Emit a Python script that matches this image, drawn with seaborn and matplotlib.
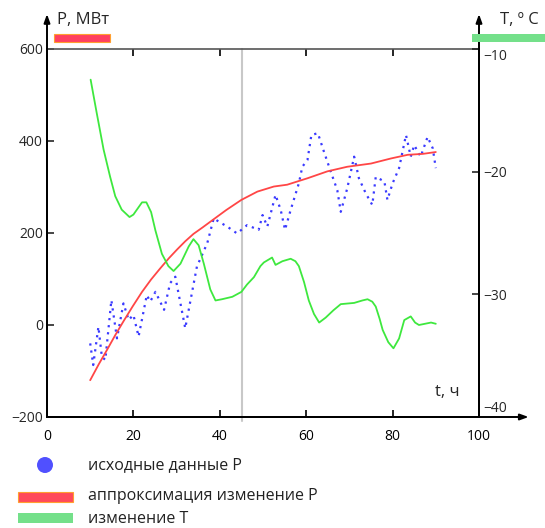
import matplotlib
matplotlib.use("Agg")
import matplotlib.pyplot as plt
import matplotlib.transforms as mtransforms
import seaborn as sns
import pandas as pd
from matplotlib.patches import Rectangle, Ellipse

# --- data ---
p_raw_t = [10.0, 10.7, 11.9, 12.7, 13.5, 14.9, 16.2, 17.7, 18.9, 20.0, 21.2, 23.1, 23.9, 25.1,
           27.1, 28.5, 29.7, 32.0, 34.7, 37.1, 38.6, 39.7, 41.7, 44.0, 46.3, 49.0, 49.9, 51.0,
           52.9, 54.1, 55.1, 56.4, 58.3, 59.1, 60.3, 61.2, 62.7, 64.1, 65.7, 67.2, 68.0, 69.5,
           71.1, 72.2, 73.8, 75.3, 76.1, 78.1, 78.8, 80.0, 81.5, 83.1, 84.2, 85.0, 86.5, 88.1,
           89.3, 90.0]
p_raw = [-40, -87, -4, -69, -76, 54, -29, 47, 11, 22, -25, 65, 51, 72,
         33, 91, 105, -7, 127, 178, 232, 225, 214, 199, 217, 207, 239, 214,
         283, 250, 207, 250, 308, 344, 359, 413, 417, 377, 333, 293, 246, 297,
         366, 319, 286, 261, 322, 312, 272, 308, 341, 413, 366, 391, 366, 409,
         384, 341]

p_fit_t = [10.0, 12.0, 13.9, 15.8, 17.7, 19.8, 22.0, 24.1, 26.2, 28.2, 30.1, 32.0, 33.9,
           36.0, 38.6, 41.5, 45.0, 48.7, 52.5, 55.6, 60.3, 64.9, 69.5, 75.0, 79.6, 83.5,
           87.0, 90.0]
p_fit = [-120, -85, -54, -22, 8, 40, 72, 99, 123, 145, 164, 182, 198,
         212, 230, 250, 272, 290, 301, 305, 319, 334, 344, 351, 362, 370,
         372, 376]

temp_t = [10.1, 11.5, 13.1, 14.6, 15.8, 17.3, 19.1, 20.0, 21.0, 22.0, 23.0, 24.1, 25.1,
          26.6, 28.1, 29.3, 30.9, 32.8, 33.9, 35.1, 36.3, 37.8, 39.0, 40.5, 42.9, 45.0,
          46.3, 47.9, 49.4, 50.2, 52.1, 52.9, 54.5, 56.4, 57.5, 58.3, 59.5, 60.6, 61.8,
          63.0, 64.5, 66.3, 68.0, 71.1, 73.0, 74.2, 75.3, 76.1, 77.0, 77.7, 79.0, 80.2,
          81.5, 82.7, 84.2, 85.2, 86.1, 88.9, 90.0]
temp = [-12.5, -15.2, -18.2, -20.4, -22.0, -23.1, -23.7, -23.5, -23.0, -22.5, -22.5, -23.3,
        -24.8, -26.7, -27.7, -28.1, -27.5, -26.1, -25.5, -26.0, -27.5, -29.6, -30.5, -30.4,
        -30.2, -29.8, -29.2, -28.6, -27.7, -27.4, -27.0, -27.6, -27.3, -27.1, -27.3, -27.7,
        -29.0, -30.5, -31.6, -32.3, -31.9, -31.3, -30.8, -30.7, -30.5, -30.4, -30.6, -31.0,
        -32.0, -32.9, -33.9, -34.4, -33.6, -32.1, -31.8, -32.3, -32.5, -32.3, -32.4]

x_ticks = [0, 20, 40, 60, 80, 100]
p_ticks = [-200, 0, 200, 400, 600]
t_ticks = [-40, -30, -20, -10]
marker_t = 45.2

legend_labels = ["исходные данные P", "аппроксимация изменение P", "изменение T"]

df_raw = pd.DataFrame({"t": p_raw_t, "P": p_raw})
df_fit = pd.DataFrame({"t": p_fit_t, "P": p_fit})
df_temp = pd.DataFrame({"t": temp_t, "T": temp})

sns.set_style("white")
plt.rcParams['font.family'] = ['Open Sans', 'DejaVu Sans']

fig = plt.figure(figsize=(5.45, 5.28), dpi=100)
ax = fig.add_axes([47/545, 1-417/528, 432/545, 368/528])
ax2 = ax.twinx()

blue = "#3a3aff"
red = "#ff4646"
green = "#3ee83e"

ax.plot([marker_t, marker_t], [-208, 600], color="#c8c8c8", lw=1.5, zorder=1, clip_on=False)
sns.lineplot(data=df_raw, x="t", y="P", ax=ax, color=blue, lw=1.6, linestyle=(0, (1, 2.2)),
             sort=False, estimator=None, zorder=3)
sns.lineplot(data=df_fit, x="t", y="P", ax=ax, color=red, lw=1.3, sort=False,
             estimator=None, zorder=4)
sns.lineplot(data=df_temp, x="t", y="T", ax=ax2, color=green, lw=1.3, sort=False,
             estimator=None, zorder=2)

ax.set_xlim(0, 100)
ax.set_ylim(-200, 600)
ax2.set_ylim(-40, -10)
ax.set_xticks(x_ticks)
ax.set_yticks(p_ticks)
ax2.set_yticks(t_ticks)
ax.set_xlabel("")
ax.set_ylabel("")
ax2.set_ylabel("")

for a in (ax, ax2):
    for s in a.spines.values():
        s.set_color("black")
        s.set_linewidth(1.4)
ax.spines["top"].set_color("#555555")
ax.spines["top"].set_linewidth(1.2)
ax2.spines["top"].set_visible(False)

ax.tick_params(axis="x", direction="in", length=5, width=1.2, labelsize=10, pad=9,
               top=True, bottom=True, colors="black")
ax.tick_params(axis="y", direction="in", length=5, width=1.2, labelsize=10, pad=3,
               left=True, right=False)
ax2.tick_params(axis="y", direction="in", length=5, width=1.2, labelsize=10, pad=3,
                right=True)

fig.canvas.draw()
for lbl, val in zip(ax2.get_yticklabels(), t_ticks):
    if val == -10:
        lbl.set_transform(lbl.get_transform() + mtransforms.ScaledTranslation(0, -6/100, fig.dpi_scale_trans))
    elif val == -40:
        lbl.set_transform(lbl.get_transform() + mtransforms.ScaledTranslation(0, 11/100, fig.dpi_scale_trans))

# arrows on axes
arrow_kw = dict(arrowstyle="-|>,head_length=0.5,head_width=0.18", color="black", lw=1.4,
                shrinkA=0, shrinkB=0)
ax.annotate("", xy=(0, 1.095), xytext=(0, 1.0), xycoords="axes fraction",
            textcoords="axes fraction", arrowprops=arrow_kw)
ax.annotate("", xy=(1, 1.095), xytext=(1, 1.0), xycoords="axes fraction",
            textcoords="axes fraction", arrowprops=arrow_kw)
ax.annotate("", xy=(1.115, 0), xytext=(1.0, 0), xycoords="axes fraction",
            textcoords="axes fraction", arrowprops=arrow_kw)

# axis titles
fig.text(57/545, 1-20/528, "P, МВт", fontsize=12, va="center", ha="left")
fig.text(500/545, 1-20/528, "T, º C", fontsize=12, va="center", ha="left")
ax.text(0.955, 0.045, "t, ч", transform=ax.transAxes, fontsize=12, ha="right", va="bottom")

# colour bars beside titles
fig.patches.append(Rectangle((54/545, 1-42/528), 56/545, 8/528, transform=fig.transFigure,
                             facecolor="#ff4060", edgecolor="#ffa030", lw=0.8))
fig.patches.append(Rectangle((472/545, 1-42/528), 80/545, 8/528, transform=fig.transFigure,
                             facecolor="#74e08a", edgecolor="none"))

# legend below
fig.patches.append(Ellipse((45/545, 1-465/528), 16/545, 16/528, transform=fig.transFigure,
                           facecolor="#5050ff", edgecolor="none"))
fig.patches.append(Rectangle((18/545, 1-502/528), 55/545, 10/528, transform=fig.transFigure,
                             facecolor="#ff4a5a", edgecolor="#ffa030", lw=0.8))
fig.patches.append(Rectangle((18/545, 1-523/528), 55/545, 10/528, transform=fig.transFigure,
                             facecolor="#74e08a", edgecolor="none"))
for yy, lab in zip([465, 496, 519], legend_labels):
    fig.text(88/545, 1-yy/528, lab, fontsize=11.5, va="center", ha="left", color="#222222")

fig.savefig("out.png", dpi=100)
